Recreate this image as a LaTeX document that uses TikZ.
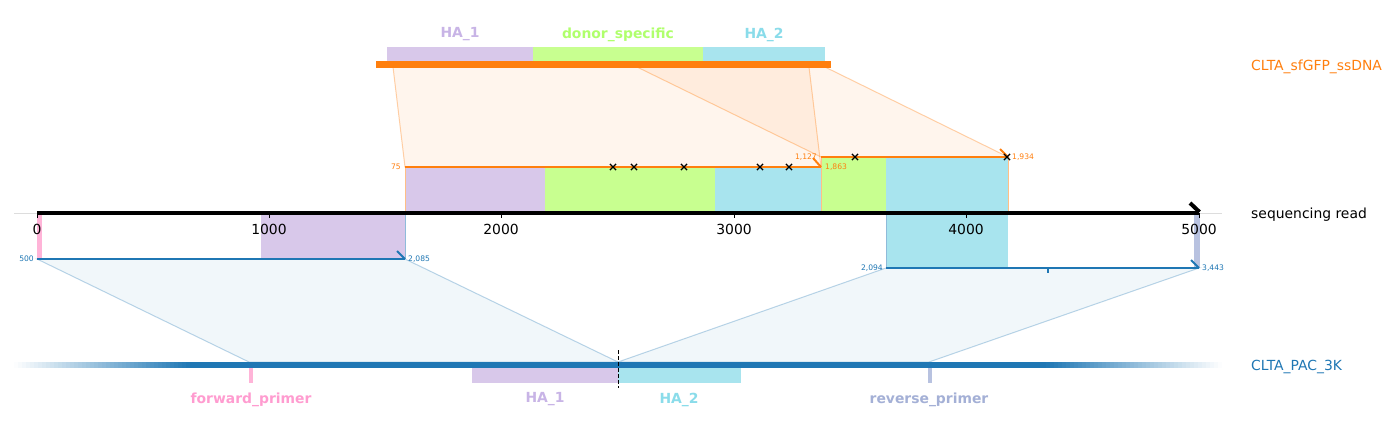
\documentclass[tikz,border=0pt]{standalone}
\usepackage{fontspec}
\setmainfont{DejaVu Sans}
\usetikzlibrary{shapes.misc}
\definecolor{ssorange}{HTML}{FF7F0E}
\definecolor{pacblue}{HTML}{1F77B4}
\definecolor{hafill}{HTML}{D8C8EA}\definecolor{halbl}{HTML}{C8B4E6}
\definecolor{donfill}{HTML}{C8FF90}\definecolor{donlbl}{HTML}{B0FF6C}
\definecolor{hbfill}{HTML}{A8E4EE}\definecolor{hblbl}{HTML}{8ADCEA}
\definecolor{fwdfill}{HTML}{FFB4D8}\definecolor{fwdlbl}{HTML}{FF9CD0}
\definecolor{revfill}{HTML}{B8C2E0}\definecolor{revlbl}{HTML}{A4B0D6}
\definecolor{spine}{HTML}{DDDDDD}

\begin{document}
\begin{tikzpicture}[x=1pt,y=-1pt,
    lbl/.style={inner sep=0pt,yshift=-1.5pt,font=\fontsize{13.9}{16}\selectfont\bfseries},
    txt/.style={inner sep=0pt,yshift=-1.5pt,font=\fontsize{13.9}{16}\selectfont},
    num/.style={inner sep=0pt,font=\fontsize{7.6}{9}\selectfont},
    xmark/.style={cross out,draw=black,line width=1.2pt,minimum size=5pt,inner sep=0pt},
    hook/.style={line width=2pt},
    ssband/.style={fill=ssorange,fill opacity=0.07,draw=ssorange,draw opacity=0.35,line width=1pt},
    pacband/.style={fill=pacblue,fill opacity=0.06,draw=pacblue,draw opacity=0.3,line width=1pt}]
  \fill[white] (0,0) rectangle (1394,431);
  \useasboundingbox (0,0) rectangle (1394,431);
  % anchor points of the alignments
  \coordinate (ss75) at (393,67); \coordinate (ss1127) at (637,67); \coordinate (ss1863) at (809,67); \coordinate (ss1934) at (825,67);
  \coordinate (rdA) at (405,167); \coordinate (rdB) at (821,167); \coordinate (rdC) at (821,157); \coordinate (rdD) at (1008,157);
  \coordinate (rdE) at (37,259); \coordinate (rdF) at (405,259); \coordinate (rdG) at (886,268); \coordinate (rdH) at (1199,268);
  \coordinate (pac500) at (249,362); \coordinate (pacmid) at (618,362); \coordinate (pac3443) at (929,362);
  % bands
  \path[ssband] (ss75)--(ss1863)--(rdB)--(rdA)--cycle; \path[ssband] (ss1127)--(ss1934)--(rdD)--(rdC)--cycle;
  \path[pacband] (rdE)--(rdF)--(pacmid)--(pac500)--cycle; \path[pacband] (rdG)--(rdH)--(pac3443)--(pacmid)--cycle;
  % ssDNA
  \fill[hafill] (387,47) rectangle (533,61); \fill[donfill] (533,47) rectangle (703,61); \fill[hbfill] (703,47) rectangle (825,61);
  \fill[ssorange] (376,61) rectangle (831,67.5);
  \node[lbl,text=halbl] (ha1top) at (460,33) {HA\_1}; \node[lbl,text=donlbl] (dontop) at (618,33) {donor\_specific}; \node[lbl,text=hblbl] (ha2top) at (764,33) {HA\_2};
  % features on the read
  \fill[hafill] (405,167) rectangle (545,213); \fill[donfill] (545,167) rectangle (715,213); \fill[hbfill] (715,167) rectangle (821,213);
  \fill[donfill] (821,157) rectangle (886,213); \fill[hbfill] (886,157) rectangle (1008,213);
  \fill[fwdfill] (37,213) rectangle (42,259); \fill[hafill] (261,213) rectangle (405,259);
  \fill[hbfill] (886,213) rectangle (1008,268); \fill[revfill] (1194,213) rectangle (1199.5,268);
  \draw[ssorange!50,line width=0.6pt] (405,167)--(405,213) (821,157)--(821,213) (1008,157)--(1008,213);
  \draw[pacblue!50,line width=0.6pt] (886,213)--(886,268) (405,213)--(405,259);
  % read axis
  \draw[spine,line width=1pt] (14,213)--(1222,213);
  \draw[line width=4pt] (37,213)--(1199,213); \draw[line width=4pt] (1190,203)--(1199.5,212);
  \foreach \x/\t in {37/0,269/1000,501/2000,734/3000,966/4000,1199/5000} {
    \draw[line width=1pt] (\x,213)--(\x,218);
    \node[inner sep=0pt,font=\fontsize{13.9}{16}\selectfont] (tk\t) at (\x,229.5) {\t};
  }
  % alignments to ssDNA
  \draw[ssorange,line width=2.2pt] (rdA)--(rdB); \draw[ssorange,hook] (813,158)--(rdB);
  \draw[ssorange,line width=2.2pt] (rdC)--(rdD); \draw[ssorange,hook] (1000,149)--(rdD);
  \foreach \x in {613,634,684,760,789} \node[xmark] (mA\x) at (\x,167) {};
  \foreach \x in {855,1007} \node[xmark] (mC\x) at (\x,157) {};
  \node[num,text=ssorange,anchor=east] (n75) at (401,167) {75}; \node[num,text=ssorange,anchor=west] (n1863) at (825,167) {1,863};
  \node[num,text=ssorange,anchor=east] (n1127) at (817,157) {1,127}; \node[num,text=ssorange,anchor=west] (n1934) at (1012,157) {1,934};
  % alignments to PAC
  \draw[pacblue,line width=2pt] (rdE)--(rdF); \draw[pacblue,hook] (397,251)--(rdF);
  \draw[pacblue,line width=2pt] (rdG)--(rdH); \draw[pacblue,hook] (1191,260)--(rdH);
  \draw[pacblue,line width=2pt] (1048,268)--(1048,273);
  \node[num,text=pacblue,anchor=east] (n500) at (34,259) {500}; \node[num,text=pacblue,anchor=west] (n2085) at (408,259) {2,085};
  \node[num,text=pacblue,anchor=east] (n2094) at (883,268) {2,094}; \node[num,text=pacblue,anchor=west] (n3443) at (1202,268) {3,443};
  % PAC, faded at both ends
  \foreach \i in {0,...,43} {
    \pgfmathsetmacro\p{100*(\i+0.5)/44}
    \fill[pacblue!\p!white] (14+4*\i,361.5) rectangle (18.2+4*\i,368);
    \fill[pacblue!\p!white] (1222-4*\i,361.5) rectangle (1217.8-4*\i,368);
  }
  \fill[pacblue] (190,361.5) rectangle (1046,368);
  \fill[fwdfill] (249,368) rectangle (252.5,383); \fill[hafill] (472,368) rectangle (618,383); \fill[hbfill] (618,368) rectangle (741,383);
  \fill[revfill] (928,368) rectangle (931.5,383);
  \draw[dashed,dash pattern=on 4pt off 2pt,line width=1pt] (618,350)--(618,388);
  \node[lbl,text=fwdlbl] (fwd) at (251,398) {forward\_primer}; \node[lbl,text=halbl] (ha1bot) at (545,398) {HA\_1};
  \node[lbl,text=hblbl] (ha2bot) at (679,398) {HA\_2}; \node[lbl,text=revlbl] (rev) at (929,398) {reverse\_primer};
  % track names
  \node[txt,text=ssorange,anchor=west] (ssname) at (1251,65) {CLTA\_sfGFP\_ssDNA};
  \node[txt,anchor=west] (rdname) at (1251,213) {sequencing read};
  \node[txt,text=pacblue,anchor=west] (pacname) at (1251,365) {CLTA\_PAC\_3K};
\end{tikzpicture}
\end{document}
